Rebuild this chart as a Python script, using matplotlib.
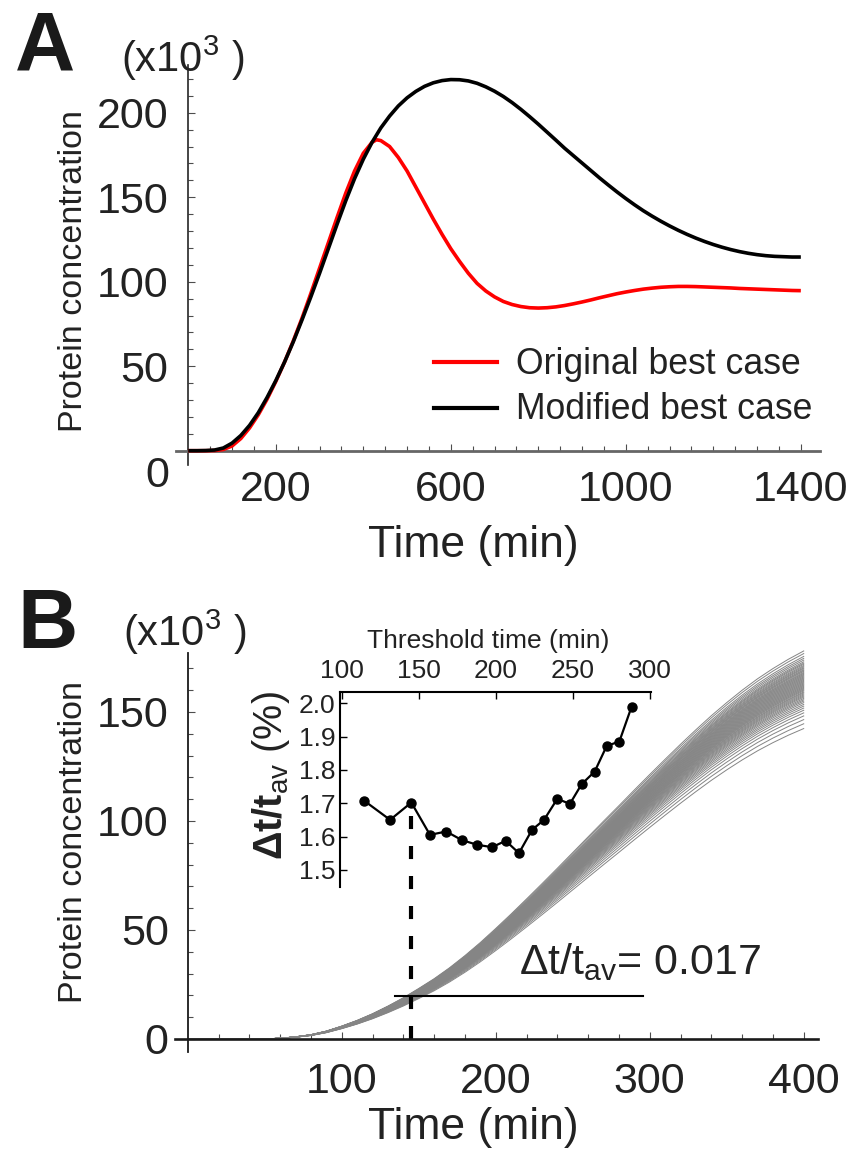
import matplotlib
matplotlib.use('Agg')
import matplotlib.pyplot as plt
from matplotlib.ticker import FixedLocator

plt.rcParams['font.family'] = ['Liberation Sans', 'DejaVu Sans']
plt.rcParams['mathtext.fontset'] = 'custom'
plt.rcParams['mathtext.rm'] = 'Liberation Sans'
plt.rcParams['mathtext.it'] = 'Liberation Sans:italic'
plt.rcParams['mathtext.bf'] = 'Liberation Sans:bold'
plt.rcParams['lines.scale_dashes'] = False

# ---------------- Panel A data ----------------
time_modified = [0, 20, 40, 60, 80, 100, 120, 140, 160, 180, 200, 220, 240, 260, 280, 300,
                 320, 340, 360, 380, 400, 420, 440, 460, 480, 500, 520, 540, 560, 580, 600,
                 620, 640, 660, 680, 700, 720, 740, 760, 780, 800, 820, 840, 860, 880, 900,
                 920, 940, 960, 980, 1000, 1020, 1040, 1060, 1080, 1100, 1120, 1140, 1160,
                 1180, 1200, 1220, 1240, 1260, 1280, 1300, 1320, 1340, 1360, 1380, 1400]
modified_best = [0, 0, 0.1, 0.4, 1.6, 4.5, 9.0, 15.0, 22.5, 31.5, 41.5, 52.5, 64.5, 77.5,
                 91.0, 105.0, 119.5, 134.0, 148.0, 161.0, 172.5, 182.5, 191.0, 198.0, 204.0,
                 208.8, 212.6, 215.6, 217.7, 219.0, 219.6, 219.5, 218.8, 217.4, 215.3, 212.7,
                 209.6, 206.0, 202.0, 197.7, 193.2, 188.5, 183.8, 179.0, 174.6, 170.2, 165.8,
                 161.4, 157.2, 153.1, 149.2, 145.5, 142.0, 138.8, 135.8, 133.0, 130.4, 128.0,
                 125.8, 123.8, 122.0, 120.4, 119.0, 117.8, 116.8, 116.0, 115.4, 115.0, 114.8,
                 114.6, 114.6]

time_original = [0, 20, 40, 60, 80, 100, 120, 140, 160, 180, 200, 220, 240, 260, 280, 300,
                 320, 340, 360, 380, 400, 420, 430, 440, 460, 480, 500, 520, 540, 560, 580,
                 600, 620, 640, 660, 680, 700, 720, 740, 760, 780, 800, 820, 840, 860, 880,
                 900, 920, 940, 960, 980, 1000, 1020, 1040, 1060, 1080, 1100, 1120, 1140,
                 1160, 1180, 1200, 1220, 1240, 1260, 1280, 1300, 1320, 1340, 1360, 1380, 1400]
original_best = [0, 0, 0, 0.1, 0.7, 2.8, 7.2, 13.5, 21.3, 30.5, 41.0, 52.5, 65.0, 78.5, 93.0,
                 108.0, 123.0, 138.0, 152.5, 165.5, 176.0, 182.5, 184.0, 183.5, 180.0, 173.5,
                 165.5, 156.0, 146.5, 137.0, 128.0, 119.5, 112.0, 105.0, 99.0, 94.5, 91.0,
                 88.3, 86.5, 85.3, 84.6, 84.4, 84.6, 85.1, 85.9, 86.9, 88.0, 89.2, 90.5, 91.7,
                 92.9, 93.9, 94.8, 95.6, 96.2, 96.7, 97.0, 97.2, 97.2, 97.1, 96.9, 96.7, 96.5,
                 96.3, 96.0, 95.8, 95.6, 95.4, 95.2, 95.0, 94.8, 94.7]

a_xtick_values = [200, 600, 1000, 1400]
a_xtick_labels = ['200', '600', '1000', '1400']
a_ytick_values = [50, 100, 150, 200]
a_ytick_labels = ['50', '100', '150', '200']
legend_labels = ['Original best case', 'Modified best case']

# ---------------- Panel B data ----------------
time_b = [0, 10, 20, 30, 40, 50, 60, 70, 80, 90, 100, 110, 120, 130, 140, 150, 160, 170,
          180, 190, 200, 210, 220, 230, 240, 250, 260, 270, 280, 290, 300, 310, 320, 330,
          340, 350, 360, 370, 380, 390, 400]
typical_trajectory = [0, 0, 0, 0, 0, 0.05, 0.3, 0.9, 1.8, 3.3, 5.4, 7.8, 10.6, 13.8, 17.3,
                      21.2, 25.3, 29.9, 35.0, 40.5, 46.4, 52.5, 58.8, 65.2, 71.7, 78.3, 84.9,
                      91.5, 98.0, 104.6, 111.1, 117.5, 123.8, 129.9, 135.8, 141.3, 146.5,
                      151.3, 155.6, 159.5, 163.0]
# end values (t = 400 min) of the individual trajectories
final_values = [178.0, 176.8, 175.5, 174.6, 173.8, 173.0, 172.4, 171.9, 171.3, 170.8, 170.3,
                169.9, 169.4, 169.0, 168.6, 168.1, 167.7, 167.3, 166.9, 166.5, 166.1, 165.7,
                165.3, 164.9, 164.5, 164.1, 163.7, 163.3, 162.9, 162.5, 162.1, 161.7, 161.3,
                160.9, 160.5, 160.1, 159.7, 159.2, 158.8, 158.3, 157.8, 157.3, 156.8, 156.2,
                155.6, 155.0, 154.3, 153.5, 152.7, 151.8, 150.8, 149.6, 148.2, 146.5, 144.6,
                142.4]
threshold_value = 19.5
threshold_span = [134.7, 295.6]
marked_time = 145.2

b_xtick_values = [100, 200, 300, 400]
b_xtick_labels = ['100', '200', '300', '400']
b_ytick_values = [0, 50, 100, 150]
b_ytick_labels = ['0', '50', '100', '150']

# inset
inset_threshold_time = [114.7, 131.4, 145.2, 157.3, 167.9, 178.1, 188.1, 197.6, 206.5, 215.1,
                        223.6, 231.4, 240.0, 248.2, 255.8, 264.3, 272.1, 280.3, 288.3]
inset_dt_percent = [1.707, 1.650, 1.702, 1.605, 1.615, 1.589, 1.575, 1.568, 1.587, 1.550,
                    1.620, 1.650, 1.713, 1.698, 1.757, 1.795, 1.872, 1.885, 1.990]
inset_xticks = [100, 150, 200, 250, 300]
inset_yticks = [1.5, 1.6, 1.7, 1.8, 1.9, 2.0]
inset_yticklabels = ['1.5', '1.6', '1.7', '1.8', '1.9', '2.0']

# ---------------- figure ----------------
W, H = 851, 1152
fig = plt.figure(figsize=(W / 100, H / 100), dpi=100)


def ftext(px, py, s, **kw):
    return fig.text(px / W, 1 - py / H, s, **kw)


def box(l, t, r, b):
    return [l / W, 1 - b / H, (r - l) / W, (b - t) / H]


TICK = 31

# ---------- Panel A ----------
axA = fig.add_axes(box(175.2, 62.0, 822.7, 467.6))
axA.patch.set_visible(False)
axA.set_xlim(-30, 1450)
axA.set_ylim(-10, 230)
for s in ['top', 'right']:
    axA.spines[s].set_visible(False)
axA.spines['left'].set_position(('data', 0))
axA.spines['bottom'].set_position(('data', 0))
axA.spines['left'].set_bounds(-8.5, 228)
axA.spines['bottom'].set_bounds(-28, 1444)
axA.spines['left'].set_linewidth(1.2)
axA.spines['left'].set_color('0.15')
axA.spines['bottom'].set_linewidth(2.0)
axA.spines['bottom'].set_color('0.4')

axA.plot(time_original, original_best, color='#ff0000', lw=2.6, solid_capstyle='butt',
         zorder=3)
axA.plot(time_modified, modified_best, color='black', lw=2.6, solid_capstyle='butt',
         zorder=4)

axA.xaxis.set_major_locator(FixedLocator(a_xtick_values))
axA.xaxis.set_minor_locator(FixedLocator(list(range(50, 1401, 50))))
axA.yaxis.set_major_locator(FixedLocator(a_ytick_values))
axA.yaxis.set_minor_locator(FixedLocator(list(range(10, 221, 10))))
axA.set_xticklabels(a_xtick_labels)
axA.set_yticklabels(a_ytick_labels)
axA.tick_params(axis='both', which='both', direction='in', color='0.3', width=0.8,
                labelsize=TICK, labelcolor='#222222')
axA.tick_params(axis='both', which='major', length=5)
axA.tick_params(axis='both', which='minor', length=3.5)
axA.tick_params(axis='x', which='major', pad=13.7)
axA.tick_params(axis='y', which='major', pad=14.4)

# manual legend
axA.plot([561.6, 705.6], [52.7, 52.7], color='#ff0000', lw=3.0)
axA.plot([561.6, 705.6], [25.1, 25.1], color='black', lw=3.0)
axA.text(749, 45.4, legend_labels[0], fontsize=25.7, ha='left', va='baseline',
         color='#222222')
axA.text(749, 18.75, legend_labels[1], fontsize=25.7, ha='left', va='baseline',
         color='#222222')

ftext(157, 476, '0', fontsize=TICK, ha='center', va='center', color='#222222')
ftext(15, 70, 'A', fontsize=60, fontweight='bold', ha='left', va='baseline', color='#1a1a1a')
ftext(121, 72, r'(x10$^{3}$ )', fontsize=30, ha='left', va='baseline', color='#222222')
ftext(82, 271, 'Protein concentration', fontsize=24.5, rotation=90, rotation_mode='anchor',
      ha='center', va='baseline', color='#222222')
ftext(473, 545, 'Time (min)', fontsize=32, ha='center', va='center', color='#222222')

# ---------- Panel B ----------
axB = fig.add_axes(box(172.3, 646.6, 822.2, 1056.4))
axB.patch.set_visible(False)
axB.set_xlim(-10, 412)
axB.set_ylim(-8, 180)
for s in ['top', 'right']:
    axB.spines[s].set_visible(False)
axB.spines['left'].set_position(('data', 0))
axB.spines['bottom'].set_position(('data', 0))
axB.spines['left'].set_bounds(-6, 177)
axB.spines['bottom'].set_bounds(-8, 409)
axB.spines['left'].set_linewidth(1.3)
axB.spines['bottom'].set_linewidth(1.9)
axB.spines['left'].set_color('0.1')
axB.spines['bottom'].set_color('0.1')
axB.spines['bottom'].set_zorder(5)

end_typ = typical_trajectory[-1]
for fv in final_values:
    k = fv / end_typ
    axB.plot(time_b, [v * k for v in typical_trajectory], color='0.52', lw=0.7, zorder=2)

axB.plot(threshold_span, [threshold_value, threshold_value], color='black', lw=1.5, zorder=4)
axB.plot([marked_time, marked_time], [102.3, -3.4], color='black', lw=3.0,
         linestyle=(0, (9.4, 12.2)), clip_on=False, zorder=4)

axB.xaxis.set_major_locator(FixedLocator(b_xtick_values))
axB.xaxis.set_minor_locator(FixedLocator(list(range(20, 401, 20))))
axB.yaxis.set_major_locator(FixedLocator(b_ytick_values))
axB.yaxis.set_minor_locator(FixedLocator(list(range(10, 171, 10))))
axB.set_xticklabels(b_xtick_labels)
axB.set_yticklabels(b_ytick_labels)
axB.tick_params(axis='both', which='both', direction='in', color='0.3', width=0.8,
                labelsize=TICK, labelcolor='#222222')
axB.tick_params(axis='both', which='major', length=5)
axB.tick_params(axis='both', which='minor', length=3.5)
axB.tick_params(axis='x', which='major', pad=16.5)
axB.tick_params(axis='y', which='major', pad=13.7)

axB.text(215.2, 29.8, r'Δt/t$_{\mathrm{av}}$= 0.017', fontsize=31, ha='left',
         va='baseline', color='#222222', zorder=6)

ftext(17, 648, 'B', fontsize=60, fontweight='bold', ha='left', va='baseline', color='#1a1a1a')
ftext(123, 646, r'(x10$^{3}$ )', fontsize=30, ha='left', va='baseline', color='#222222')
ftext(82, 842, 'Protein concentration', fontsize=24.5, rotation=90, rotation_mode='anchor',
      ha='center', va='baseline', color='#222222')
ftext(473, 1128, 'Time (min)', fontsize=32, ha='center', va='center', color='#222222')

# ---------- Inset ----------
axI = fig.add_axes(box(340.2, 691.6, 651.2, 886.8))
axI.patch.set_visible(False)
axI.set_xlim(99, 301)
axI.set_ylim(1.449, 2.035)
axI.spines['bottom'].set_visible(False)
axI.spines['right'].set_visible(False)
axI.spines['left'].set_linewidth(1.5)
axI.spines['top'].set_linewidth(1.5)
axI.xaxis.tick_top()
axI.xaxis.set_major_locator(FixedLocator(inset_xticks))
axI.yaxis.set_major_locator(FixedLocator(inset_yticks))
axI.set_yticklabels(inset_yticklabels)
axI.tick_params(axis='both', direction='in', length=5, width=1.0, labelsize=19,
                labelcolor='#222222')
axI.tick_params(axis='x', pad=6.3)
axI.tick_params(axis='y', pad=3.6)
axI.plot(inset_threshold_time, inset_dt_percent, '-o', color='black', lw=1.6, ms=6.5,
         clip_on=False)

ftext(488, 641, 'Threshold time (min)', fontsize=19, ha='center', va='center',
      color='#222222')
ftext(282, 776, r'$\mathbf{Δt/t}_{\mathrm{av}}$ (%)', fontsize=28.5, rotation=90,
      rotation_mode='anchor', ha='center', va='baseline', color='#222222')

fig.savefig('out.png', dpi=100)
